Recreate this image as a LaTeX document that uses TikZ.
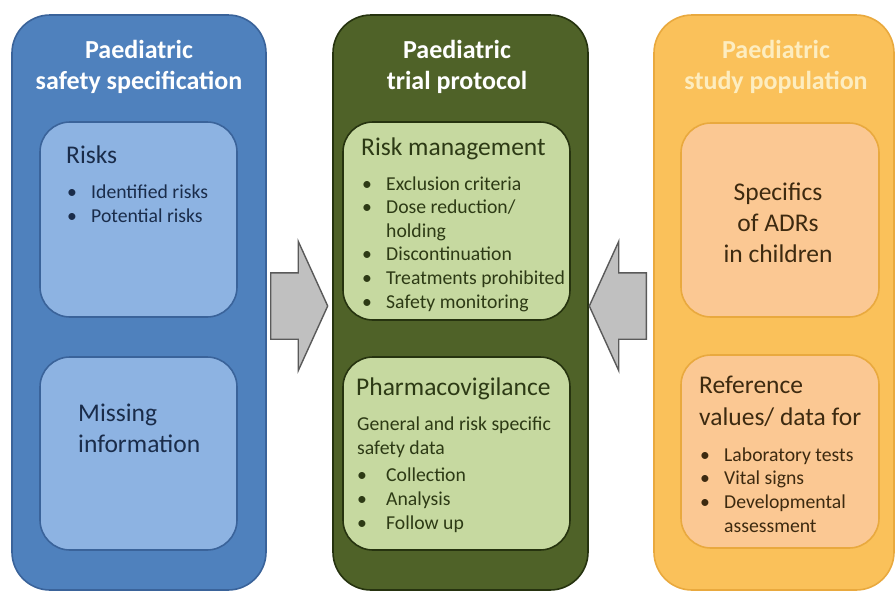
\documentclass[tikz,border=0pt]{standalone}
\usepackage{fontspec}
\setmainfont{Carlito}
\usetikzlibrary{shapes.arrows}

\definecolor{blueouter}{HTML}{4F81BD}
\definecolor{blueedge}{HTML}{3A639A}
\definecolor{bluecard}{HTML}{8DB3E2}
\definecolor{bluetext}{HTML}{1A2C4A}
\definecolor{greenouter}{HTML}{4F6228}
\definecolor{greenedge}{HTML}{26330F}
\definecolor{greencard}{HTML}{C6D9A0}
\definecolor{greentext}{HTML}{2D3A15}
\definecolor{goldouter}{HTML}{FAC15A}
\definecolor{goldedge}{HTML}{E9A93E}
\definecolor{goldcard}{HTML}{FBC893}
\definecolor{goldtitle}{HTML}{FDEDC0}
\definecolor{goldtext}{HTML}{3D2A10}
\definecolor{arrowfill}{HTML}{C0C0C0}
\definecolor{arrowline}{HTML}{5A5A5A}

\newcommand\bul[2][24pt]{\makebox[#1][l]{\textbullet}#2}

\begin{document}
\begin{tikzpicture}[x=1pt, y=-1pt,
    panel/.style={draw, line width=1.6pt, rounded corners=38pt,
                  minimum width=254pt, minimum height=575pt, inner sep=0pt},
    card/.style={draw, line width=1.6pt, rounded corners=30pt,
                 minimum width=197pt, inner sep=0pt},
    title/.style={inner sep=0pt, align=center, anchor=base,
                  font=\fontsize{26}{31}\selectfont\bfseries},
    head/.style={inner sep=0pt, align=left, anchor=base west,
                 font=\fontsize{25.5}{31}\selectfont},
    body/.style={inner sep=0pt, align=left, anchor=base west,
                 font=\fontsize{19.7}{23.6}\selectfont},
    blockarrow/.style={single arrow, draw=arrowline, fill=arrowfill,
                       line width=1.4pt, inner sep=0pt, text height=65pt,
                       text depth=0pt, single arrow head extend=31.5pt,
                       single arrow tip angle=131, minimum height=57pt,
                       anchor=tail}]
    \useasboundingbox (0,0) rectangle (896,592);
    \fill[white] (0,0) rectangle (896,592);

    % the three panels
    \node[panel, fill=blueouter, draw=blueedge] (safety) at (139,302.5) {};
    \node[panel, fill=greenouter, draw=greenedge, minimum width=255pt] (protocol) at (460.5,302.5) {};
    \node[panel, fill=goldouter, draw=goldedge, minimum width=240pt] (population) at (774,302.5) {};

    % titles (anchored on their last line)
    \node[title, text=white] (safetytitle) at (139,89) {Paediatric\\safety specification};
    \node[title, text=white] (protocoltitle) at (457,89) {Paediatric\\trial protocol};
    \node[title, text=goldtitle] (populationtitle) at (776,89) {Paediatric\\study population};

    % cards
    \node[card, fill=bluecard, draw=blueedge, minimum height=195pt] (risks) at (138.5,219.5) {};
    \node[card, fill=bluecard, draw=blueedge, minimum height=193pt] (missing) at (138.5,453.5) {};
    \node[card, fill=greencard, draw=greenedge, minimum width=227pt, minimum height=198pt] (riskmgmt) at (456.5,221) {};
    \node[card, fill=greencard, draw=greenedge, minimum width=227pt, minimum height=193pt] (pharmaco) at (456.5,453.5) {};
    \node[card, fill=goldcard, draw=goldedge, minimum width=198pt, minimum height=194pt] (specifics) at (780,220) {};
    \node[card, fill=goldcard, draw=goldedge, minimum width=198pt, minimum height=193pt] (refvalues) at (780,451.5) {};

    % texts
    \node[head, text=bluetext] (risksh) at (66,163) {Risks};
    \node[body, text=bluetext] (riskslist) at (67,222) {\bul{Identified risks}\\\bul{Potential risks}};
    \node[head, text=bluetext] (missingh) at (78,452) {Missing\\information};

    \node[head, text=greentext] (riskmgmth) at (361,155) {Risk management};
    \node[body, text=greentext] (riskmgmtlist) at (362,308)
        {\bul{Exclusion criteria}\\\bul{Dose reduction/}\\\hspace*{24pt}holding\\
         \bul{Discontinuation}\\\bul{Treatments prohibited}\\\bul{Safety monitoring}};
    \node[head, text=greentext] (pharmacoh) at (356,395) {Pharmacovigilance};
    \node[body, text=greentext] (pharmacolist) at (357,529)
        {General and risk specific\\safety data\\[4pt]
         \bul[29pt]{Collection}\\\bul[29pt]{Analysis}\\\bul[29pt]{Follow up}};

    \node[head, text=goldtext, align=center, anchor=base] (specificsh) at (778,262) {Specifics\\of ADRs\\in children};
    \node[head, text=goldtext] (refvaluesh) at (699,425) {Reference\\[1pt]values/ data for};
    \node[body, text=goldtext] (refvalueslist) at (700,532)
        {\bul{Laboratory tests}\\\bul{Vital signs}\\\bul{Developmental}\\\hspace*{24pt}assessment};

    % block arrows
    \node[blockarrow] (toprotocol) at (270,306) {};
    \node[blockarrow, shape border rotate=180] (fromstudy) at (647,306) {};
\end{tikzpicture}
\end{document}
